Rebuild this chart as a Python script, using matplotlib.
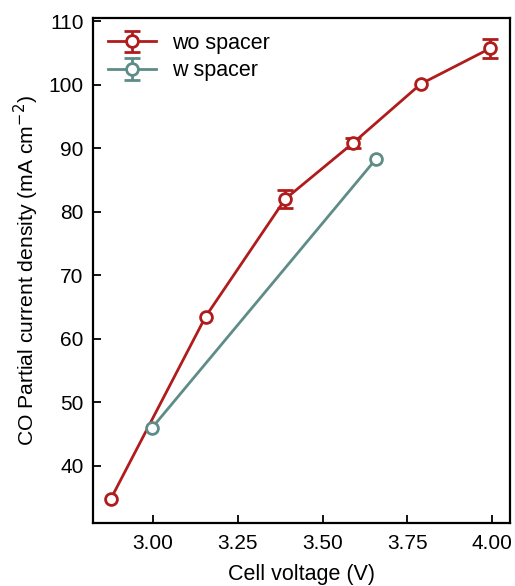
import numpy as np
import matplotlib.pyplot as plt

plt.rcParams['font.family'] = ['Liberation Sans', 'DejaVu Sans']

# ---------- data ----------
# nan = error bar hidden behind the marker in the original figure
v_wo = [2.875, 3.155, 3.39, 3.59, 3.79, 3.995]
j_wo = [34.8, 63.5, 82.0, 90.8, 100.1, 105.7]
e_wo = [np.nan, np.nan, 1.4, 0.8, np.nan, 1.5]

v_w = [2.997, 3.658]
j_w = [46.0, 88.3]
e_w = [np.nan, np.nan]

red = '#b01c1c'
teal = '#5e8c86'

# ---------- plot ----------
fig = plt.figure(figsize=(5.15, 5.86), dpi=100)
ax = fig.add_axes([0.181, 0.1075, 0.809, 0.862])

ax.errorbar(v_wo, j_wo, yerr=e_wo, color=red, lw=2, marker='o', ms=8.5,
            mfc='white', mec=red, mew=2, capsize=5.5, capthick=2,
            elinewidth=2, label='wo spacer')
ax.errorbar(v_w, j_w, yerr=e_w, color=teal, lw=2, marker='o', ms=8.5,
            mfc='white', mec=teal, mew=2, capsize=5.5, capthick=2,
            elinewidth=2, label='w spacer')

ax.set_xlim(2.823, 4.053)
ax.set_ylim(31.0, 110.5)
ax.set_xticks([3.0, 3.25, 3.5, 3.75, 4.0])
ax.set_yticks(range(40, 111, 10))
ax.set_xticklabels(['3.00', '3.25', '3.50', '3.75', '4.00'])
ax.tick_params(direction='in', length=6, width=1.3, labelsize=15)
ax.tick_params(axis='x', pad=8)
ax.tick_params(axis='y', pad=7)
for s in ax.spines.values():
    s.set_linewidth(1.6)

ax.set_xlabel('Cell voltage (V)', fontsize=15.5, labelpad=8)
ax.set_ylabel('CO Partial current density (mA cm$^{-2}$)', fontsize=15.2,
              labelpad=5)

ax.legend(loc='upper left', frameon=False, fontsize=15.5, handlelength=2.2,
          borderaxespad=0.3, handletextpad=0.75, labelspacing=0.3,
          borderpad=0.4)

fig.savefig('out.png', dpi=100)
